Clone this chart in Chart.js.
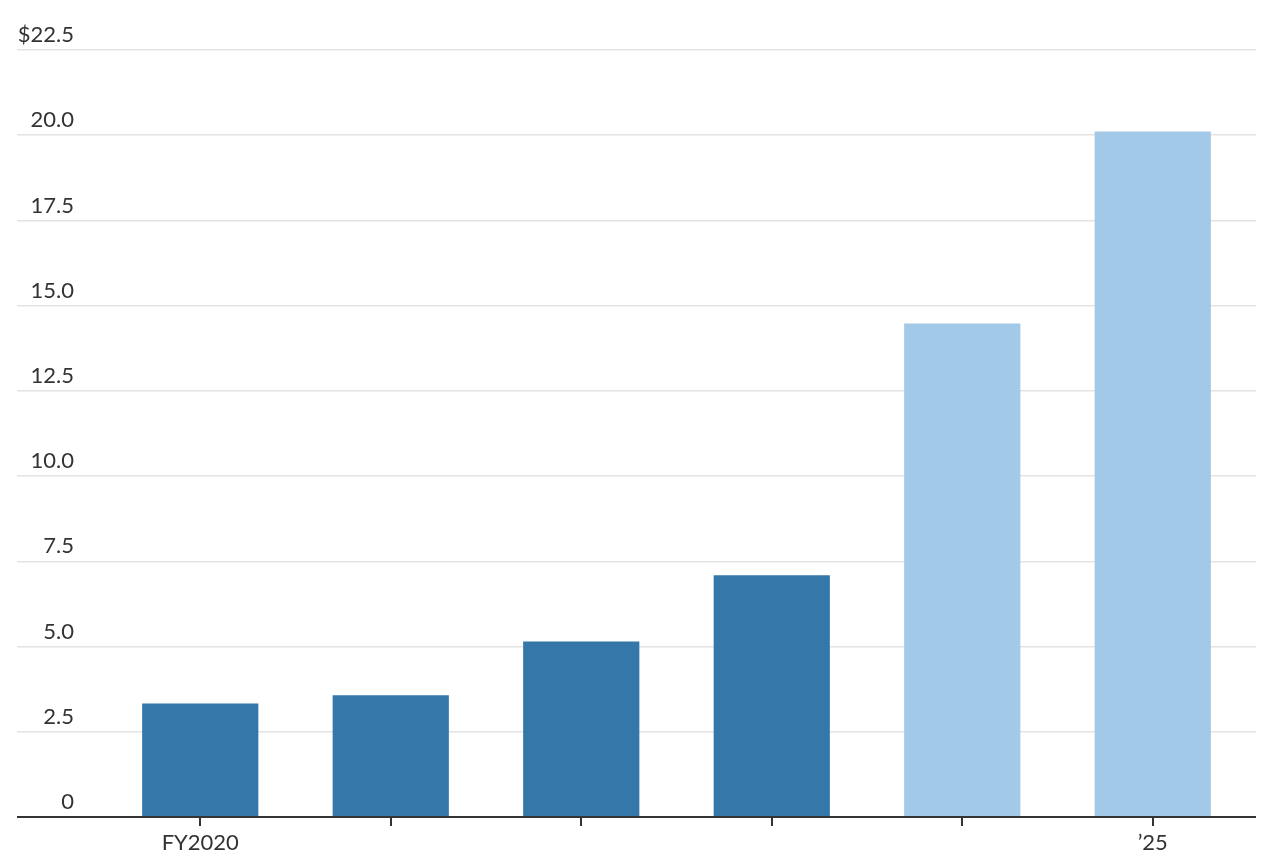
<!DOCTYPE html>
<html>
<head>
<meta charset="utf-8">
<script src="https://cdn.jsdelivr.net/npm/chart.js@4.4.1/dist/chart.umd.min.js"></script>
<style>
  html, body { margin: 0; padding: 0; background: #fff; }
  #wrap { width: 1272px; height: 860px; position: relative; }
</style>
</head>
<body>
<div id="wrap"><canvas id="c"></canvas></div>
<script>
const categories = ['FY2020', '2021', '2022', '2023', '2024', '2025'];
const tickLabels = ['FY2020', '', '', '', '', '\u201925'];
const values = [3.33, 3.57, 5.15, 7.09, 14.48, 20.11];
const isProjection = [false, false, false, false, true, true];
const yTicks = [0, 2.5, 5.0, 7.5, 10.0, 12.5, 15.0, 17.5, 20.0, 22.5];

const FONT = { family: 'Lato, "Noto Sans", sans-serif', size: 22, lineHeight: 1.0 };
const TEXT = '#333333';
const GRID = '#e3e3e3';
const AXIS = '#333333';

const yGridColor = ctx => (ctx.tick && ctx.tick.value === 0) ? AXIS : GRID;
const yGridWidth = ctx => (ctx.tick && ctx.tick.value === 0) ? 2 : 1.5;

new Chart(document.getElementById('c'), {
  type: 'bar',
  data: {
    labels: categories,
    datasets: [{
      data: values,
      backgroundColor: values.map((v, i) => isProjection[i] ? '#a3c9e8' : '#3477a8'),
      borderWidth: 0,
      categoryPercentage: 1.0,
      barPercentage: 0.61
    }]
  },
  options: {
    responsive: true,
    maintainAspectRatio: false,
    animation: false,
    layout: { padding: { left: 17, right: 16, top: 50, bottom: 0 } },
    plugins: { legend: { display: false }, tooltip: { enabled: false } },
    scales: {
      x: {
        offset: true,
        grid: { display: true, drawOnChartArea: false, drawTicks: true, tickLength: 9, color: AXIS, lineWidth: 2, offset: false },
        border: { display: true, color: AXIS, width: 2 },
        ticks: {
          font: FONT, color: TEXT, padding: 6, maxRotation: 0, autoSkip: false,
          callback: (v, i) => tickLabels[i]
        }
      },
      y: {
        position: 'left',
        min: 0, max: 22.5,
        afterBuildTicks: s => { s.ticks = yTicks.map(v => ({ value: v })); },
        afterFit: s => { s.width = 88; },
        grid: { drawOnChartArea: true, drawTicks: true, tickLength: 88, color: yGridColor, lineWidth: yGridWidth },
        border: { display: false },
        ticks: {
          font: FONT, color: TEXT, crossAlign: 'near', padding: -57, labelOffset: -15,
          callback: v => v === 22.5 ? '$22.5' : (v === 0 ? '0' : v.toFixed(1))
        }
      },
      y2: {
        position: 'right',
        min: 0, max: 22.5,
        afterBuildTicks: s => { s.ticks = yTicks.map(v => ({ value: v })); },
        afterFit: s => { s.width = 8; },
        grid: { drawOnChartArea: false, drawTicks: true, tickLength: 8, color: yGridColor, lineWidth: yGridWidth },
        border: { display: false },
        ticks: { display: false }
      }
    }
  }
});
</script>
</body>
</html>
